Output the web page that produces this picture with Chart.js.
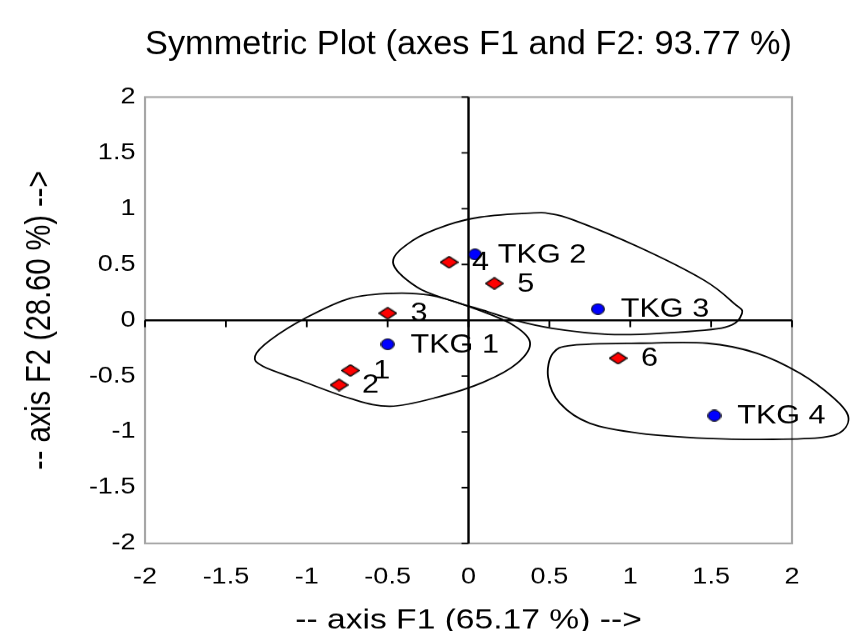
<!DOCTYPE html>
<html>
<head>
<meta charset="utf-8">
<script src="https://cdn.jsdelivr.net/npm/chart.js@4/dist/chart.umd.min.js"></script>
<style>
  html, body { margin: 0; padding: 0; background: #fff; overflow: hidden; }
  #c { display: block; width: 850px !important; height: 631px !important; }
</style>
</head>
<body>
<canvas id="c" width="708" height="631"></canvas>
<script>
// ---- data ----
const rowLabels = ['TKG 1', 'TKG 2', 'TKG 3', 'TKG 4'];
const rowF1 = [-0.50, 0.04, 0.80, 1.52];
const rowF2 = [-0.215, 0.59, 0.10, -0.855];

const colLabels = ['1', '2', '3', '4', '5', '6'];
const colF1 = [-0.73, -0.80, -0.50, -0.12, 0.16, 0.925];
const colF2 = [-0.45, -0.58, 0.063, 0.52, 0.33, -0.34];

const axisTicks = [-2, -1.5, -1, -0.5, 0, 0.5, 1, 1.5, 2];
const tickLabels = ['-2', '-1.5', '-1', '-0.5', '0', '0.5', '1', '1.5', '2'];

// hand-drawn group outlines (data units)
const groupA_F1 = [-1.32, -1.227, -0.998, -0.733, -0.467, -0.238, -0.003, 0.257, 0.38, 0.30, 0.09, -0.195, -0.485, -0.733, -1.042, -1.270];
const groupA_F2 = [-0.323, -0.179, 0.027, 0.197, 0.242, 0.224, 0.126, -0.027, -0.197, -0.386, -0.556, -0.691, -0.771, -0.700, -0.538, -0.413];
const groupB_F1 = [-0.467, -0.343, -0.133, 0.071, 0.381, 0.504, 0.652, 1.054, 1.456, 1.641, 1.691, 1.586, 1.184, 0.862, 0.516, 0.287, 0.09, -0.114, -0.318];
const groupB_F2 = [0.520, 0.717, 0.852, 0.924, 0.960, 0.955, 0.897, 0.655, 0.359, 0.152, 0.063, -0.063, -0.117, -0.126, -0.072, 0.0, 0.09, 0.179, 0.296];
const groupC_F1 = [0.522, 0.646, 1.060, 1.475, 1.784, 2.049, 2.253, 2.346, 2.315, 2.192, 1.883, 1.475, 1.060, 0.751, 0.566, 0.492];
const groupC_F2 = [-0.296, -0.224, -0.206, -0.206, -0.296, -0.475, -0.691, -0.852, -0.987, -1.049, -1.067, -1.058, -1.013, -0.924, -0.745, -0.511];

const titleText = 'Symmetric Plot (axes F1 and F2: 93.77 %)';
const xTitle = '-- axis F1 (65.17 %) -->';
const yTitle = '-- axis F2 (28.60 %) -->';

const FONT = 'Arial, "Liberation Sans", sans-serif';

// ---- marker images ----
function makeCircle() {
  const c = document.createElement('canvas');
  c.width = 12; c.height = 12;
  const g = c.getContext('2d');
  g.beginPath();
  g.ellipse(6, 6, 5.3, 5.4, 0, 0, Math.PI * 2);
  g.fillStyle = '#0000ff'; g.fill();
  g.lineWidth = 1; g.strokeStyle = '#000'; g.stroke();
  return c;
}
function makeDiamond() {
  const c = document.createElement('canvas');
  c.width = 16; c.height = 13;
  const g = c.getContext('2d');
  g.beginPath();
  g.moveTo(8, 0.7); g.lineTo(15.3, 6.5); g.lineTo(8, 12.3); g.lineTo(0.7, 6.5); g.closePath();
  g.fillStyle = '#ff0000'; g.fill();
  g.lineWidth = 1.1; g.strokeStyle = '#000'; g.stroke();
  return c;
}

function closedSpline(ctx, pts) {
  const n = pts.length;
  ctx.beginPath();
  ctx.moveTo(pts[0][0], pts[0][1]);
  for (let i = 0; i < n; i++) {
    const p0 = pts[(i - 1 + n) % n], p1 = pts[i], p2 = pts[(i + 1) % n], p3 = pts[(i + 2) % n];
    ctx.bezierCurveTo(
      p1[0] + (p2[0] - p0[0]) / 6, p1[1] + (p2[1] - p0[1]) / 6,
      p2[0] - (p3[0] - p1[0]) / 6, p2[1] - (p3[1] - p1[1]) / 6,
      p2[0], p2[1]);
  }
  ctx.closePath();
  ctx.stroke();
}

const decor = {
  id: 'decor',
  beforeDatasetsDraw(chart) {
    const { ctx, chartArea: a, scales: { x, y } } = chart;
    ctx.save();
    // plot border
    ctx.strokeStyle = '#a6a6a6';
    ctx.lineWidth = 1.8;
    ctx.strokeRect(a.left, a.top, a.right - a.left, a.bottom - a.top);
    // group outlines
    ctx.strokeStyle = '#000';
    ctx.lineWidth = 1.5;
    [[groupA_F1, groupA_F2], [groupB_F1, groupB_F2], [groupC_F1, groupC_F2]].forEach(([gx, gy]) => {
      const pts = gx.map((v, i) => [x.getPixelForValue(v), y.getPixelForValue(gy[i])]);
      closedSpline(ctx, pts);
    });
    // zero axes
    const x0 = x.getPixelForValue(0), y0 = y.getPixelForValue(0);
    ctx.lineWidth = 2;
    ctx.beginPath();
    ctx.moveTo(a.left, y0); ctx.lineTo(a.right, y0);
    ctx.moveTo(x0, a.top); ctx.lineTo(x0, a.bottom);
    ctx.stroke();
    // tick marks on the zero axes
    ctx.lineWidth = 1.5;
    ctx.beginPath();
    axisTicks.forEach(v => {
      const px = x.getPixelForValue(v);
      ctx.moveTo(px, y0); ctx.lineTo(px, y0 + 7);
      const py = y.getPixelForValue(v);
      ctx.moveTo(x0 - 5.8, py); ctx.lineTo(x0, py);
    });
    ctx.stroke();
    ctx.restore();
  },
  afterDatasetsDraw(chart) {
    const { ctx } = chart;
    ctx.save();
    ctx.font = '25.5px ' + FONT;
    ctx.fillStyle = '#000';
    ctx.textBaseline = 'middle';
    ctx.textAlign = 'left';
    chart.data.datasets.forEach((ds, di) => {
      const meta = chart.getDatasetMeta(di);
      meta.data.forEach((pt, i) => {
        ctx.fillText(ds.labels[i], pt.x + 19, pt.y + 1);
      });
    });
    ctx.restore();
  }
};

const rowPts = rowF1.map((v, i) => ({ x: v, y: rowF2[i] }));
const colPts = colF1.map((v, i) => ({ x: v, y: colF2[i] }));

const tickCb = function (value) {
  const i = axisTicks.indexOf(value);
  return i >= 0 ? tickLabels[i] : '';
};

new Chart(document.getElementById('c'), {
  type: 'scatter',
  data: {
    datasets: [
      { label: 'rows', data: rowPts, labels: rowLabels, pointStyle: makeCircle(), clip: false },
      { label: 'cols', data: colPts, labels: colLabels, pointStyle: makeDiamond(), clip: false }
    ]
  },
  options: {
    responsive: false,
    devicePixelRatio: 850 / 708,
    animation: false,
    events: [],
    layout: { padding: { left: 0, right: 48.3, top: 0, bottom: 0 } },
    plugins: {
      legend: { display: false },
      tooltip: { enabled: false },
      title: {
        display: true,
        text: titleText,
        fullSize: false,
        color: '#000',
        font: { family: FONT, size: 34, weight: 'normal', lineHeight: 1.2 },
        padding: { top: 24.6, bottom: 31.6 }
      }
    },
    scales: {
      x: {
        type: 'linear', min: -2, max: 2,
        afterBuildTicks: s => { s.ticks = axisTicks.map(v => ({ value: v })); },
        afterFit: s => { s.height = 88; },
        grid: { display: false, drawTicks: false },
        border: { display: false },
        ticks: { callback: tickCb, color: '#000', font: { family: FONT, size: 22.5 }, padding: 20.5, maxRotation: 0, autoSkip: false },
        title: { display: true, text: xTitle, color: '#000', font: { family: FONT, size: 28, lineHeight: 1 }, padding: { top: 0, bottom: -3.5 } }
      },
      y: {
        type: 'linear', min: -2, max: 2,
        afterBuildTicks: s => { s.ticks = axisTicks.map(v => ({ value: v })); },
        afterFit: s => { s.width = 120.8; },
        grid: { display: false, drawTicks: false },
        border: { display: false },
        ticks: { callback: tickCb, color: '#000', font: { family: FONT, size: 22.5 }, padding: 8, autoSkip: false },
        title: { display: true, text: yTitle, color: '#000', font: { family: FONT, size: 29, lineHeight: 1.2 }, padding: { top: 16, bottom: 0 } }
      }
    }
  },
  plugins: [decor]
});
</script>
</body>
</html>
